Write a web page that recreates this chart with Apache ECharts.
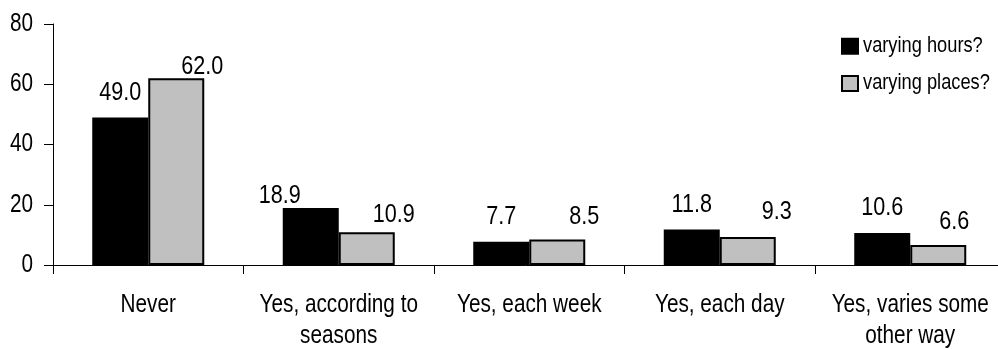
<!DOCTYPE html>
<html>
<head>
<meta charset="utf-8">
<script src="https://cdn.jsdelivr.net/npm/echarts@6/dist/echarts.min.js"></script>
<style>
  html, body { margin: 0; padding: 0; background: #fff; }
  #chart { width: 998px; height: 349px; }
</style>
</head>
<body>
<div id="chart"></div>
<script>
// Survey answers: does the respondent work varying hours / in varying places?
const categories = [
  'Never',
  'Yes, according to\nseasons',
  'Yes, each week',
  'Yes, each day',
  'Yes, varies some\nother way'
];
const varyingHours = [49.0, 18.9, 7.7, 11.8, 10.6];
const varyingPlaces = [62.0, 10.9, 8.5, 9.3, 6.6];
const yTicks = [0, 20, 40, 60, 80];

// Condensed lettering: draw and measure text horizontally narrowed,
// the way a narrow sans face would set it.
const NARROW = 0.83;
(function () {
  const proto = CanvasRenderingContext2D.prototype;
  const fill = proto.fillText;
  const stroke = proto.strokeText;
  const measure = proto.measureText;
  proto.fillText = function (text, x, y, maxWidth) {
    this.save();
    this.translate(x, y);
    this.scale(NARROW, 1);
    if (maxWidth === undefined) fill.call(this, text, 0, 0);
    else fill.call(this, text, 0, 0, maxWidth / NARROW);
    this.restore();
  };
  proto.strokeText = function (text, x, y, maxWidth) {
    this.save();
    this.translate(x, y);
    this.scale(NARROW, 1);
    if (maxWidth === undefined) stroke.call(this, text, 0, 0);
    else stroke.call(this, text, 0, 0, maxWidth / NARROW);
    this.restore();
  };
  proto.measureText = function (text) {
    const m = measure.call(this, text);
    return {
      width: m.width * NARROW,
      actualBoundingBoxLeft: m.actualBoundingBoxLeft * NARROW,
      actualBoundingBoxRight: m.actualBoundingBoxRight * NARROW,
      actualBoundingBoxAscent: m.actualBoundingBoxAscent,
      actualBoundingBoxDescent: m.actualBoundingBoxDescent,
      fontBoundingBoxAscent: m.fontBoundingBoxAscent,
      fontBoundingBoxDescent: m.fontBoundingBoxDescent
    };
  };
})();

const FONT = '"Liberation Sans", Arial, sans-serif';

// Label placement tweaks: [series][category] -> [dx, dy]
const LABEL_SHIFT = {
  hours:  [[0, -14], [-31, -1], [0, -14], [0, -14], [0, -14]],
  places: [[26, -1], [27, -7], [27, -12], [29, -14], [16, -12]]
};

function buildData(values, shifts) {
  return values.map((v, i) => ({
    value: v,
    label: { offset: shifts[i] }
  }));
}

const labelBase = {
  show: true,
  position: 'top',
  distance: 0,
  color: '#000',
  fontFamily: FONT,
  fontSize: 26,
  formatter: p => p.value.toFixed(1)
};

const chart = echarts.init(document.getElementById('chart'), null, { renderer: 'canvas' });
chart.setOption({
  animation: false,
  backgroundColor: '#ffffff',
  grid: {
    left: 53, right: -7.5, top: 24, bottom: 84,
    containLabel: false,
    outerBoundsMode: 'none'
  },
  legend: {
    orient: 'vertical',
    left: 836,
    top: 32,
    icon: 'rect',
    itemWidth: 16,
    itemHeight: 15,
    itemGap: 19,
    textStyle: { fontFamily: FONT, fontSize: 22, color: '#000' },
    data: ['varying hours?', 'varying places?']
  },
  xAxis: {
    type: 'category',
    data: categories,
    axisLine: { show: true, lineStyle: { color: '#000', width: 1 } },
    axisTick: { show: true, length: 9, alignWithLabel: false, lineStyle: { color: '#000' } },
    axisLabel: {
      fontFamily: FONT,
      fontSize: 25,
      color: '#000',
      lineHeight: 31,
      margin: 25,
      interval: 0
    }
  },
  yAxis: {
    type: 'value',
    min: yTicks[0],
    max: yTicks[yTicks.length - 1],
    interval: yTicks[1] - yTicks[0],
    splitLine: { show: false },
    axisLine: { show: true, lineStyle: { color: '#000', width: 1 } },
    axisTick: { show: true, length: 9, lineStyle: { color: '#000' } },
    axisLabel: { fontFamily: FONT, fontSize: 25, color: '#000', margin: 20 }
  },
  series: [
    {
      name: 'varying hours?',
      type: 'bar',
      barWidth: 56,
      barGap: '0%',
      data: buildData(varyingHours, LABEL_SHIFT.hours),
      itemStyle: { color: '#000000', borderColor: '#000000', borderWidth: 2 },
      label: labelBase
    },
    {
      name: 'varying places?',
      type: 'bar',
      barWidth: 56,
      barGap: '0%',
      data: buildData(varyingPlaces, LABEL_SHIFT.places),
      itemStyle: { color: '#c0c0c0', borderColor: '#000000', borderWidth: 2 },
      label: labelBase
    }
  ]
});
</script>
</body>
</html>
